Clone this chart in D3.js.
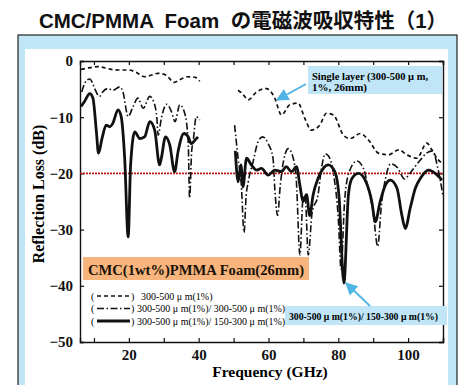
<!DOCTYPE html>
<html>
<head>
<meta charset="utf-8">
<script src="https://cdn.jsdelivr.net/npm/d3@7"></script>
<style>
  html, body { margin: 0; padding: 0; background: #fff; }
  svg { display: block; }
</style>
</head>
<body>
<div id="chart"></div>
<script>
// Reflection loss curves, [GHz, dB]
var singleLow = [[6.3,-1.5],[8,-1.3],[11,-1.0],[13,-1.2],[15,-1.5],[17,-1.6],[20,-1.6],[22,-2.0],[24.5,-2.8],[26.5,-2.5],[28.3,-2.2],[30.6,-2.5],[33,-3.8],[35,-3.2],[37,-2.8],[39,-2.9],[40.3,-3.6]];
var singleHigh = [[51.3,-5.2],[52.5,-5.8],[54.2,-6.9],[56.6,-5.5],[59.4,-4.9],[61.8,-6.6],[63.7,-9.6],[66.1,-7.8],[68.5,-7.5],[70.4,-10.2],[72.3,-12.3],[74.7,-11.4],[76.6,-9.3],[78.6,-9.6],[81.5,-13.2],[83.4,-13.8],[86.3,-12.9],[88.7,-14.1],[91.5,-16.4],[94.4,-16.7],[97.3,-15.8],[99.7,-16.7],[102.5,-17.3],[105.4,-14.6],[106.8,-15.8],[108.5,-17.5],[110,-18.3]];

var doubleLow = [[6.5,-5.5],[7.5,-3.8],[8.8,-3.2],[9.5,-3.8],[10.2,-4.9],[11.6,-6.3],[12.5,-5.5],[14.0,-4.9],[15.4,-5.2],[17.4,-4.6],[18.3,-5.5],[19.8,-9.9],[21.2,-8.1],[22.6,-6.6],[24.1,-8.4],[26.0,-6.3],[27.4,-7.8],[28.0,-10],[28.4,-13.2],[29.3,-10.2],[30.8,-7.7],[32.2,-9.0],[33.2,-10.8],[34.6,-7.8],[36.0,-9.3],[37.0,-14.4],[37.4,-24.4],[38.0,-16],[38.4,-14.4],[39.3,-9.9],[40.3,-10.5]];
var doubleHigh = [[50.3,-11.4],[51.3,-17.3],[52.2,-21.9],[53.0,-30.5],[53.6,-24],[54.2,-21.5],[55.6,-17.9],[57.0,-14.4],[58.3,-13.5],[59.9,-14.7],[61.3,-17.3],[61.8,-22.6],[62.6,-27.5],[63.4,-22],[64.7,-16.7],[65.7,-15.6],[67.1,-17.3],[68.0,-21.5],[69.0,-34.5],[69.9,-24.4],[70.5,-24],[71.4,-34.5],[72.5,-27],[74.2,-23.8],[75.2,-19],[76.3,-16.5],[77.3,-17],[78.6,-20],[80.0,-28],[80.8,-37],[81.8,-25],[83.0,-20],[85.3,-17.8],[87.2,-19.1],[88.7,-23],[90,-27],[91.3,-33],[92.3,-26],[93.5,-21],[95,-18.3],[97,-19],[99,-21],[100.5,-20],[103,-18],[105.5,-16.3],[107,-16],[108.5,-19],[110,-24]];

var mixedLow = [[6.3,-8.1],[7.3,-7.2],[8.8,-5.8],[9.7,-6.6],[10.7,-12.6],[11.3,-16.4],[12.3,-13.8],[13.5,-11.4],[14.5,-11.7],[15.4,-11.1],[16.9,-8.7],[17.8,-9.9],[18.8,-17.3],[19.8,-31.3],[20.5,-18.5],[21.7,-12.6],[23.1,-13.8],[24.5,-13.5],[26.0,-10.8],[27.4,-12.3],[28.8,-18.5],[29.3,-17.3],[30.5,-13.5],[31.7,-14.9],[33.1,-19.7],[34.1,-16.1],[35.8,-12.9],[37.0,-13.5],[37.9,-14.7],[38.9,-14.1],[39.8,-13.5]];
var mixedHigh = [[50.5,-16],[51.3,-21.5],[52.1,-18.5],[52.7,-22.4],[53.7,-17.3],[55.1,-18.5],[56.6,-19.4],[58.0,-19.1],[59.9,-20.3],[61.8,-19.4],[63.7,-19.7],[65.1,-18.8],[66.6,-19.7],[68.0,-18.8],[69.0,-22.1],[69.9,-25.0],[70.9,-23.8],[71.8,-27.5],[72.8,-23.8],[74.2,-20.9],[75.7,-19.1],[77.1,-18.5],[79.0,-19.7],[80.2,-24],[81.6,-39.5],[82.9,-23.8],[83.9,-20.9],[85.8,-20.0],[87.7,-21.2],[89.6,-25],[90.6,-28.6],[92.0,-25],[93.5,-22.1],[94.9,-21.2],[96.8,-22.6],[98.2,-27.4],[99.2,-29.8],[100.6,-26.2],[102.1,-22.6],[103.5,-20.9],[105.9,-19.4],[107.8,-20.0],[109.7,-21.2]];

var xTicks = [10, 20, 30, 40, 50, 60, 70, 80, 90, 100, 110];
var xLabels = [20, 40, 60, 80, 100];
var yTicks = [0, -10, -20, -30, -40, -50];
var threshold = -20;

var legendLabels = ["300-500 \u03bc m(1%)", "300-500 \u03bc m(1%)/ 300-500 \u03bc m(1%)", "300-500 \u03bc m(1%)/ 150-300 \u03bc m(1%)"];

var W = 462, H = 385;
var serif = "'Liberation Serif', 'Times New Roman', serif";
var svg = d3.select("#chart").append("svg").attr("width", W).attr("height", H);

// Slide frame
svg.append("rect").attr("x", 18).attr("y", 35).attr("width", 439).attr("height", 360)
    .attr("fill", "#bfe5f6").attr("stroke", "#222").attr("stroke-width", 1.2);
svg.append("rect").attr("x", 25).attr("y", 49).attr("width", 423).attr("height", 340).attr("fill", "#fff");

// Title
svg.append("text").attr("x", 243).attr("y", 28).attr("text-anchor", "middle")
    .attr("font-family", "'Liberation Sans', 'Noto Sans CJK JP', sans-serif")
    .attr("font-weight", "bold").attr("font-size", "20.5px").attr("fill", "#111")
    .style("white-space", "pre")
    .text("CMC/PMMA  Foam  \u306e\u96fb\u78c1\u6ce2\u5438\u53ce\u7279\u6027\uff081\uff09");

var x = d3.scaleLinear().domain([6, 110]).range([80, 443]);
var y = d3.scaleLinear().domain([-50, 0]).range([342, 61]);

// Axes, ticks inward
var g = svg.append("g");
g.append("g").attr("transform", "translate(0,342)")
    .call(d3.axisBottom(x).tickValues(xTicks).tickSize(-4).tickPadding(7)
        .tickFormat(function(d) { return xLabels.indexOf(d) >= 0 ? d : ""; }));
g.append("g").attr("transform", "translate(0,61)")
    .call(d3.axisTop(x).tickValues(xTicks).tickSize(-4).tickFormat(""));
g.append("g").attr("transform", "translate(80,0)")
    .call(d3.axisLeft(y).tickValues(yTicks).tickSize(-4).tickPadding(7));
g.append("g").attr("transform", "translate(443,0)")
    .call(d3.axisRight(y).tickValues(yTicks).tickSize(-4).tickFormat(""));
g.selectAll(".domain").attr("stroke", "#111").attr("stroke-width", 1.4);
g.selectAll(".tick line").attr("stroke", "#111").attr("stroke-width", 1.2);
g.selectAll(".tick text").attr("font-family", serif).attr("font-weight", "bold")
    .attr("font-size", "15px").attr("fill", "#111");

// Axis titles
svg.append("text").attr("x", 270).attr("y", 377).attr("text-anchor", "middle")
    .attr("font-family", serif).attr("font-weight", "bold").attr("font-size", "15.5px")
    .text("Frequency (GHz)");
svg.append("text").attr("transform", "translate(44,194) rotate(-90)").attr("text-anchor", "middle")
    .attr("font-family", serif).attr("font-weight", "bold").attr("font-size", "16px")
    .text("Reflection Loss (dB)");

// -20 dB reference
svg.append("line").attr("x1", x(6)).attr("x2", x(110)).attr("y1", y(threshold)).attr("y2", y(threshold))
    .attr("stroke", "#c0141c").attr("stroke-width", 1.6).attr("stroke-dasharray", "2,1");

var line = d3.line().x(function(d) { return x(d[0]); }).y(function(d) { return y(d[1]); })
    .curve(d3.curveMonotoneX);

var styles = {
    single: {w: 1.7, dash: "4,3"},
    double: {w: 1.6, dash: "7,2.5,1.5,2.5"},
    mixed: {w: 2.8, dash: null}
};
var series = [
    {k: "single", d: singleLow}, {k: "single", d: singleHigh},
    {k: "double", d: doubleLow}, {k: "double", d: doubleHigh},
    {k: "mixed", d: mixedLow}, {k: "mixed", d: mixedHigh}
];
svg.append("g").selectAll("path").data(series).enter().append("path")
    .attr("d", function(s) { return line(s.d); })
    .attr("fill", "none").attr("stroke", "#111")
    .attr("stroke-linejoin", "round")
    .attr("stroke-width", function(s) { return styles[s.k].w; })
    .attr("stroke-dasharray", function(s) { return styles[s.k].dash; });

// Orange caption
svg.append("rect").attr("x", 83).attr("y", 257).attr("width", 226).attr("height", 23).attr("fill", "#f7b47c");
svg.append("text").attr("x", 88).attr("y", 275).attr("font-family", serif).attr("font-weight", "bold")
    .attr("font-size", "15.5px").attr("fill", "#1a1208")
    .attr("textLength", 216).attr("lengthAdjust", "spacingAndGlyphs")
    .text("CMC(1wt%)PMMA Foam(26mm)");

// Legend
var keys = ["single", "double", "mixed"];
var leg = svg.append("g").selectAll("g").data(keys).enter().append("g")
    .attr("transform", function(d, i) { return "translate(0," + (296 + i * 12.5) + ")"; });
leg.append("text").attr("x", 91).attr("y", 3.5).attr("font-family", serif).attr("font-size", "10px").text("(");
leg.append("text").attr("x", 131).attr("y", 3.5).attr("font-family", serif).attr("font-size", "10px").text(")");
leg.append("line").attr("x1", 97).attr("x2", 130).attr("y1", 0).attr("y2", 0)
    .attr("stroke", "#111")
    .attr("stroke-width", function(d) { return styles[d].w; })
    .attr("stroke-dasharray", function(d) { return styles[d].dash; });
leg.append("text").attr("x", function(d, i) { return i == 0 ? 141 : 137; }).attr("y", 3.5)
    .attr("font-family", serif).attr("font-size", "10px")
    .text(function(d, i) { return legendLabels[i]; });

// Callouts
var defs = svg.append("defs");
defs.append("marker").attr("id", "ah").attr("viewBox", "0 0 10 10").attr("refX", 9).attr("refY", 5)
    .attr("markerWidth", 7).attr("markerHeight", 7).attr("orient", "auto")
    .append("path").attr("d", "M0,0L10,5L0,10z").attr("fill", "#4fb3e4");

svg.append("rect").attr("x", 308).attr("y", 66).attr("width", 134).attr("height", 28).attr("fill", "#bfe5f6");
svg.append("text").attr("x", 312).attr("y", 80).attr("font-family", serif).attr("font-weight", "bold")
    .attr("font-size", "11px").attr("textLength", 116).attr("lengthAdjust", "spacingAndGlyphs")
    .text("Single layer (300-500 \u03bc m,");
svg.append("text").attr("x", 312).attr("y", 91).attr("font-family", serif).attr("font-weight", "bold")
    .attr("font-size", "11px").text("1%, 26mm)");
svg.append("line").attr("x1", 306).attr("y1", 84).attr("x2", 277).attr("y2", 100)
    .attr("stroke", "#4fb3e4").attr("stroke-width", 1.8).attr("marker-end", "url(#ah)");

svg.append("rect").attr("x", 285).attr("y", 306).attr("width", 162).attr("height", 19).attr("fill", "#bfe5f6");
svg.append("text").attr("x", 289).attr("y", 320).attr("font-family", serif).attr("font-weight", "bold")
    .attr("font-size", "10px").attr("textLength", 149).attr("lengthAdjust", "spacingAndGlyphs")
    .text("300-500 \u03bc m(1%)/ 150-300 \u03bc m(1%)");
svg.append("line").attr("x1", 370).attr("y1", 306).attr("x2", 346).attr("y2", 283)
    .attr("stroke", "#4fb3e4").attr("stroke-width", 1.8).attr("marker-end", "url(#ah)");
</script>
</body>
</html>
